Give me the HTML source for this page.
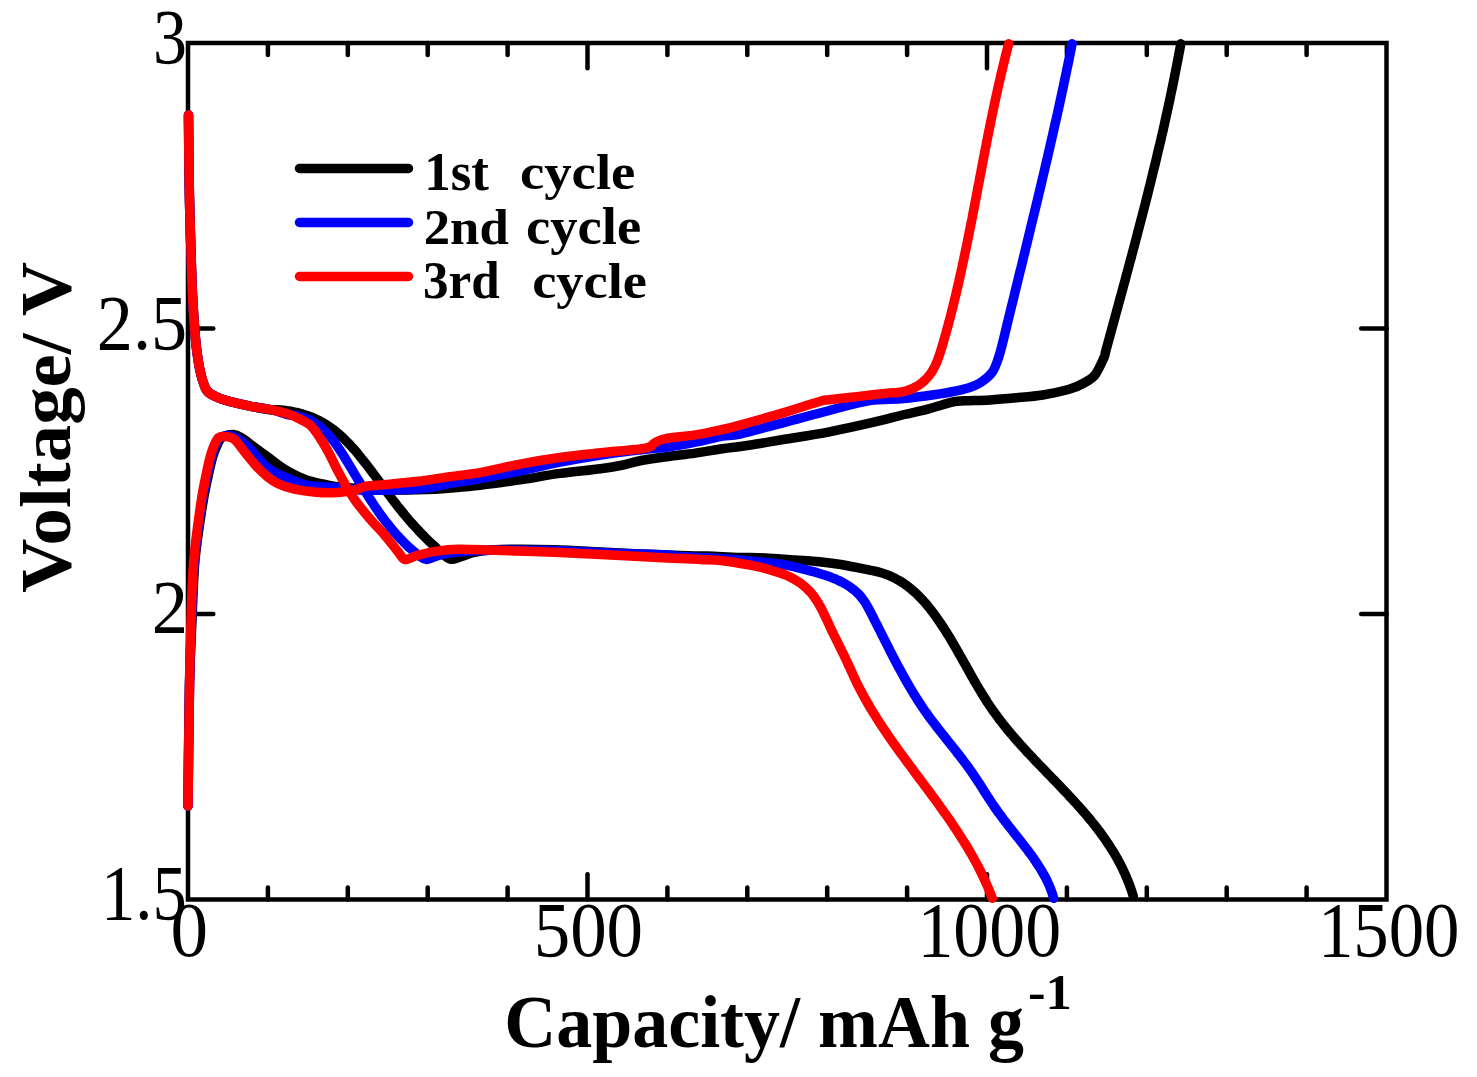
<!DOCTYPE html>
<html><head><meta charset="utf-8"><style>
html,body{margin:0;padding:0;background:#fff;}
body{width:1477px;height:1077px;overflow:hidden;position:relative;}
svg{position:absolute;left:0;top:0;}
.r{font-family:"Liberation Serif",serif;fill:#000;}
.b{font-family:"Liberation Serif",serif;font-weight:bold;fill:#000;}
</style></head><body>
<svg width="1477" height="1077" viewBox="0 0 1477 1077">
<g stroke="#000" stroke-width="4.5" stroke-linecap="round" fill="none">
<line x1="267.9" y1="899.5" x2="267.9" y2="887.5"/><line x1="267.9" y1="43.0" x2="267.9" y2="55.0"/><line x1="347.8" y1="899.5" x2="347.8" y2="887.5"/><line x1="347.8" y1="43.0" x2="347.8" y2="55.0"/><line x1="427.7" y1="899.5" x2="427.7" y2="887.5"/><line x1="427.7" y1="43.0" x2="427.7" y2="55.0"/><line x1="507.6" y1="899.5" x2="507.6" y2="887.5"/><line x1="507.6" y1="43.0" x2="507.6" y2="55.0"/><line x1="587.5" y1="899.5" x2="587.5" y2="874.2"/><line x1="587.5" y1="43.0" x2="587.5" y2="68.3"/><line x1="667.4" y1="899.5" x2="667.4" y2="887.5"/><line x1="667.4" y1="43.0" x2="667.4" y2="55.0"/><line x1="747.3" y1="899.5" x2="747.3" y2="887.5"/><line x1="747.3" y1="43.0" x2="747.3" y2="55.0"/><line x1="827.2" y1="899.5" x2="827.2" y2="887.5"/><line x1="827.2" y1="43.0" x2="827.2" y2="55.0"/><line x1="907.1" y1="899.5" x2="907.1" y2="887.5"/><line x1="907.1" y1="43.0" x2="907.1" y2="55.0"/><line x1="987.0" y1="899.5" x2="987.0" y2="874.2"/><line x1="987.0" y1="43.0" x2="987.0" y2="68.3"/><line x1="1066.9" y1="899.5" x2="1066.9" y2="887.5"/><line x1="1066.9" y1="43.0" x2="1066.9" y2="55.0"/><line x1="1146.8" y1="899.5" x2="1146.8" y2="887.5"/><line x1="1146.8" y1="43.0" x2="1146.8" y2="55.0"/><line x1="1226.7" y1="899.5" x2="1226.7" y2="887.5"/><line x1="1226.7" y1="43.0" x2="1226.7" y2="55.0"/><line x1="1306.6" y1="899.5" x2="1306.6" y2="887.5"/><line x1="1306.6" y1="43.0" x2="1306.6" y2="55.0"/><line x1="188.0" y1="328.5" x2="213.3" y2="328.5"/><line x1="1386.5" y1="328.5" x2="1361.2" y2="328.5"/><line x1="188.0" y1="614.0" x2="213.3" y2="614.0"/><line x1="1386.5" y1="614.0" x2="1361.2" y2="614.0"/>
<rect x="188" y="43" width="1198.5" height="856.5" stroke-linecap="butt" stroke-linejoin="miter"/>
</g>
<g fill="none" stroke-linecap="round" stroke-linejoin="round" stroke-width="9.5">
<path d="M188.5 115.0 C188.6 126.4 188.8 162.9 189.2 183.6 C189.5 204.3 190.0 220.8 190.6 239.4 C191.2 258.0 191.7 278.7 192.5 295.0 C193.3 311.3 194.4 326.2 195.3 337.0 C196.2 347.8 197.3 354.4 198.1 360.0 C198.9 365.6 199.3 367.2 200.1 370.8 C200.9 374.4 201.7 378.2 203.0 381.7 C204.3 385.2 205.1 388.9 207.7 391.6 C210.3 394.3 214.9 396.3 218.5 397.9 C222.1 399.5 223.9 400.0 229.3 401.4 C234.7 402.8 244.2 404.9 251.0 406.3 C257.8 407.7 265.9 409.2 270.0 409.8 C274.1 410.4 273.7 409.8 275.5 409.8 C277.4 409.9 279.2 410.0 281.0 410.1 C282.8 410.2 284.5 410.4 286.3 410.6 C288.0 410.9 289.8 411.1 291.5 411.4 C293.2 411.7 294.9 412.1 296.6 412.5 C298.3 412.8 299.9 413.3 301.6 413.7 C303.2 414.2 304.8 414.7 306.4 415.3 C308.0 415.8 309.6 416.4 311.2 417.0 C312.7 417.6 314.2 418.3 315.8 419.0 C317.3 419.7 318.8 420.4 320.2 421.2 C321.7 422.0 323.1 422.8 324.5 423.7 C326.0 424.5 327.4 425.4 328.7 426.3 C330.1 427.2 331.4 428.2 332.8 429.2 C334.1 430.1 335.4 431.2 336.7 432.2 C337.9 433.3 339.2 434.3 340.4 435.5 C341.7 436.6 342.9 437.7 344.1 438.8 C345.3 440.0 346.5 441.2 347.6 442.4 C348.8 443.6 350.0 444.8 351.1 446.1 C352.2 447.3 353.4 448.6 354.5 449.8 C355.6 451.1 356.7 452.4 357.8 453.7 C358.9 455.0 359.9 456.3 361.0 457.7 C362.1 459.0 363.1 460.3 364.2 461.7 C365.2 463.0 366.3 464.4 367.3 465.7 C368.4 467.1 369.4 468.4 370.4 469.8 C371.5 471.2 372.5 472.5 373.5 473.9 C374.6 475.3 375.6 476.6 376.6 478.0 C377.6 479.4 378.6 480.8 379.7 482.2 C380.7 483.5 381.7 484.9 382.7 486.3 C383.7 487.7 384.8 489.1 385.8 490.4 C386.8 491.8 387.8 493.2 388.9 494.6 C389.9 495.9 390.9 497.3 391.9 498.7 C393.0 500.0 394.0 501.4 395.1 502.8 C396.1 504.1 397.2 505.5 398.2 506.8 C399.3 508.2 400.3 509.5 401.4 510.8 C402.5 512.2 403.5 513.5 404.6 514.8 C405.7 516.1 406.8 517.4 407.9 518.7 C409.0 520.0 410.1 521.3 411.3 522.6 C412.4 523.9 413.5 525.1 414.7 526.4 C415.8 527.6 417.0 528.9 418.2 530.1 C419.3 531.4 420.5 532.6 421.7 533.8 C422.9 535.0 424.1 536.3 425.3 537.5 C426.5 538.7 427.7 539.9 428.9 541.1 C430.2 542.2 431.4 543.4 432.6 544.6 C433.9 545.8 435.1 546.9 436.4 548.1 C437.6 549.3 438.9 550.4 440.2 551.6 C441.4 552.7 442.2 553.7 444.0 555.0 C445.8 556.3 448.4 558.8 451.0 559.2 C453.6 559.6 456.4 558.2 459.6 557.2 C462.8 556.2 467.0 554.4 470.4 553.4 C473.8 552.4 475.1 551.9 480.0 551.2 C484.9 550.6 487.7 549.8 500.0 549.5 C512.3 549.2 535.3 549.2 553.7 549.7 C572.1 550.2 589.6 551.6 610.6 552.6 C631.6 553.6 663.9 555.0 680.0 555.6 C696.1 556.2 697.3 555.7 707.0 556.0 C716.7 556.3 728.5 557.1 738.2 557.4 C747.9 557.7 755.8 557.5 765.3 558.0 C774.8 558.5 786.1 559.5 795.1 560.1 C804.1 560.7 811.6 561.0 819.5 561.8 C827.4 562.6 834.2 563.4 842.5 564.8 C850.8 566.2 864.2 569.1 869.6 570.2 C875.0 571.3 873.3 570.8 875.1 571.2 C876.9 571.6 878.6 572.0 880.3 572.5 C882.0 573.0 883.7 573.5 885.3 574.1 C886.9 574.7 888.5 575.3 890.1 576.0 C891.7 576.6 893.2 577.4 894.7 578.1 C896.2 578.9 897.6 579.7 899.1 580.5 C900.5 581.4 901.9 582.2 903.3 583.2 C904.6 584.1 906.0 585.0 907.3 586.0 C908.6 587.0 909.9 588.0 911.2 589.1 C912.4 590.1 913.7 591.2 914.9 592.3 C916.1 593.4 917.3 594.5 918.4 595.7 C919.6 596.9 920.8 598.0 921.9 599.3 C923.0 600.5 924.1 601.7 925.2 602.9 C926.3 604.2 927.3 605.5 928.4 606.7 C929.4 608.0 930.5 609.3 931.5 610.7 C932.5 612.0 933.5 613.3 934.5 614.7 C935.5 616.0 936.5 617.4 937.4 618.7 C938.4 620.1 939.4 621.5 940.3 622.9 C941.2 624.3 942.2 625.7 943.1 627.1 C944.0 628.5 944.9 629.9 945.8 631.3 C946.7 632.8 947.6 634.2 948.5 635.6 C949.4 637.1 950.3 638.5 951.1 640.0 C952.0 641.5 952.9 642.9 953.7 644.4 C954.6 645.9 955.4 647.3 956.3 648.8 C957.1 650.3 958.0 651.8 958.8 653.3 C959.7 654.8 960.5 656.3 961.4 657.8 C962.2 659.2 963.0 660.7 963.9 662.2 C964.7 663.7 965.6 665.2 966.4 666.7 C967.2 668.2 968.1 669.7 968.9 671.2 C969.8 672.7 970.6 674.2 971.4 675.7 C972.3 677.2 973.1 678.7 974.0 680.2 C974.9 681.7 975.7 683.2 976.6 684.7 C977.5 686.1 978.3 687.6 979.2 689.1 C980.1 690.6 981.0 692.0 981.9 693.5 C982.8 695.0 983.7 696.4 984.6 697.9 C985.5 699.3 986.4 700.7 987.3 702.2 C988.3 703.6 989.2 705.0 990.2 706.4 C991.1 707.9 992.1 709.3 993.1 710.7 C994.1 712.1 995.1 713.4 996.1 714.8 C997.1 716.2 998.1 717.6 999.1 718.9 C1000.1 720.3 1001.2 721.6 1002.2 723.0 C1003.3 724.3 1004.3 725.6 1005.4 727.0 C1006.5 728.3 1007.5 729.6 1008.6 730.9 C1009.7 732.2 1010.8 733.5 1011.9 734.8 C1013.0 736.1 1014.1 737.4 1015.2 738.7 C1016.4 740.0 1017.5 741.3 1018.6 742.5 C1019.8 743.8 1020.9 745.1 1022.0 746.3 C1023.2 747.6 1024.3 748.9 1025.5 750.1 C1026.6 751.4 1027.8 752.6 1029.0 753.9 C1030.1 755.1 1031.3 756.3 1032.5 757.6 C1033.6 758.8 1034.8 760.1 1036.0 761.3 C1037.2 762.5 1038.3 763.8 1039.5 765.0 C1040.7 766.2 1041.9 767.4 1043.1 768.7 C1044.3 769.9 1045.4 771.1 1046.6 772.4 C1047.8 773.6 1049.0 774.8 1050.2 776.0 C1051.4 777.2 1052.6 778.5 1053.7 779.7 C1054.9 780.9 1056.1 782.1 1057.3 783.4 C1058.5 784.6 1059.6 785.8 1060.8 787.1 C1062.0 788.3 1063.2 789.5 1064.3 790.7 C1065.5 792.0 1066.7 793.2 1067.8 794.4 C1069.0 795.7 1070.2 796.9 1071.3 798.2 C1072.5 799.4 1073.6 800.7 1074.7 801.9 C1075.9 803.2 1077.0 804.4 1078.1 805.7 C1079.3 806.9 1080.4 808.2 1081.5 809.5 C1082.6 810.7 1083.7 812.0 1084.8 813.3 C1085.9 814.6 1087.0 815.8 1088.1 817.1 C1089.2 818.4 1090.3 819.7 1091.3 821.0 C1092.4 822.3 1093.4 823.6 1094.5 825.0 C1095.5 826.3 1096.5 827.6 1097.6 828.9 C1098.6 830.3 1099.6 831.6 1100.6 833.0 C1101.6 834.3 1102.6 835.7 1103.5 837.0 C1104.5 838.4 1105.5 839.8 1106.4 841.2 C1107.4 842.6 1108.3 844.0 1109.2 845.4 C1110.1 846.8 1111.0 848.2 1111.9 849.6 C1112.8 851.0 1113.7 852.5 1114.6 853.9 C1115.4 855.4 1116.3 856.8 1117.1 858.3 C1117.9 859.8 1118.7 861.3 1119.5 862.8 C1120.3 864.3 1121.1 865.8 1121.8 867.3 C1122.6 868.8 1123.3 870.4 1124.0 871.9 C1124.8 873.5 1125.5 875.0 1126.1 876.6 C1126.8 878.2 1127.5 879.8 1128.1 881.4 C1128.8 883.0 1129.4 884.6 1130.0 886.3 C1130.6 887.9 1131.1 889.6 1131.7 891.2 C1132.3 892.9 1133.0 895.5 1133.3 896.3" stroke="#000"/>
<path d="M188.0 806.0 C188.2 785.8 188.8 716.0 189.5 685.0 C190.2 654.0 191.1 640.8 192.0 620.0 C192.9 599.2 193.2 579.2 195.0 560.0 C196.8 540.8 200.4 518.5 202.5 505.0 C204.6 491.5 205.8 486.9 207.5 479.0 C209.2 471.1 211.0 462.9 212.5 457.5 C214.0 452.1 214.9 450.0 216.5 446.7 C218.1 443.4 219.1 439.6 222.0 437.5 C224.9 435.4 230.4 434.3 233.7 434.4 C237.0 434.5 239.1 436.3 242.0 438.0 C244.9 439.7 246.8 441.6 251.0 444.7 C255.2 447.8 261.8 452.6 267.2 456.6 C272.6 460.6 277.2 464.7 283.5 468.5 C289.8 472.3 298.0 476.7 305.2 479.4 C312.4 482.1 321.0 483.5 326.8 484.8 C332.6 486.1 334.3 486.4 339.8 487.0 C345.3 487.6 352.2 488.0 360.0 488.5 C367.8 489.0 375.8 489.8 386.8 490.0 C397.9 490.2 415.8 489.8 426.3 489.5 C436.8 489.2 441.1 488.7 450.0 488.0 C458.9 487.3 468.1 486.7 480.0 485.3 C491.9 483.9 508.3 481.6 521.6 479.6 C534.9 477.6 546.8 475.2 560.0 473.4 C573.2 471.6 590.1 470.1 600.6 468.7 C611.1 467.3 616.2 466.4 623.0 465.0 C629.8 463.6 633.7 461.9 641.2 460.5 C648.8 459.1 659.3 457.7 668.3 456.5 C677.3 455.3 686.4 454.4 695.4 453.1 C704.4 451.8 715.1 449.8 722.5 448.7 C729.9 447.6 733.8 447.4 740.0 446.5 C746.2 445.6 752.5 444.7 760.0 443.5 C767.5 442.3 773.1 441.2 784.7 439.3 C796.3 437.4 814.5 434.7 829.4 431.8 C844.3 428.9 861.5 425.1 874.0 422.2 C886.5 419.3 895.3 416.7 904.4 414.5 C913.5 412.3 920.6 410.9 928.7 408.8 C936.8 406.7 947.1 403.2 953.1 401.9 C959.1 400.6 958.9 401.1 965.0 400.8 C971.1 400.5 981.4 400.4 990.0 399.9 C998.6 399.4 1007.6 398.6 1016.4 397.8 C1025.2 397.0 1034.0 396.4 1042.8 395.0 C1051.6 393.6 1062.5 391.2 1069.2 389.3 C1075.9 387.4 1078.7 385.9 1083.0 383.5 C1087.3 381.1 1091.3 379.5 1094.8 375.2 C1098.3 370.9 1102.2 361.4 1104.0 357.6 C1105.8 353.8 1104.9 354.3 1105.3 352.7 C1105.8 351.0 1106.2 349.4 1106.7 347.7 C1107.1 346.1 1107.6 344.4 1108.0 342.8 C1108.5 341.1 1108.9 339.5 1109.4 337.8 C1109.8 336.2 1110.3 334.5 1110.7 332.9 C1111.2 331.2 1111.6 329.6 1112.1 327.9 C1112.5 326.3 1113.0 324.6 1113.4 323.0 C1113.9 321.3 1114.3 319.7 1114.8 318.0 C1115.2 316.4 1115.7 314.7 1116.1 313.1 C1116.6 311.4 1117.0 309.8 1117.5 308.1 C1117.9 306.5 1118.4 304.8 1118.8 303.2 C1119.3 301.5 1119.7 299.9 1120.2 298.2 C1120.6 296.6 1121.1 294.9 1121.5 293.3 C1122.0 291.6 1122.4 290.0 1122.9 288.3 C1123.3 286.7 1123.8 285.0 1124.2 283.4 C1124.7 281.7 1125.1 280.1 1125.6 278.4 C1126.0 276.8 1126.4 275.1 1126.9 273.5 C1127.3 271.8 1127.8 270.2 1128.2 268.5 C1128.7 266.9 1129.1 265.2 1129.5 263.6 C1130.0 261.9 1130.4 260.3 1130.9 258.6 C1131.3 257.0 1131.8 255.3 1132.2 253.7 C1132.6 252.0 1133.1 250.4 1133.5 248.7 C1134.0 247.1 1134.4 245.4 1134.8 243.8 C1135.3 242.1 1135.7 240.4 1136.1 238.8 C1136.6 237.1 1137.0 235.5 1137.4 233.8 C1137.9 232.2 1138.3 230.5 1138.7 228.9 C1139.2 227.2 1139.6 225.6 1140.0 223.9 C1140.5 222.2 1140.9 220.6 1141.3 218.9 C1141.8 217.3 1142.2 215.6 1142.6 214.0 C1143.0 212.3 1143.5 210.7 1143.9 209.0 C1144.3 207.3 1144.7 205.7 1145.2 204.0 C1145.6 202.4 1146.0 200.7 1146.4 199.1 C1146.8 197.4 1147.3 195.7 1147.7 194.1 C1148.1 192.4 1148.5 190.8 1148.9 189.1 C1149.3 187.5 1149.8 185.8 1150.2 184.1 C1150.6 182.5 1151.0 180.8 1151.4 179.2 C1151.8 177.5 1152.2 175.8 1152.6 174.2 C1153.0 172.5 1153.4 170.9 1153.8 169.2 C1154.2 167.5 1154.7 165.9 1155.1 164.2 C1155.5 162.5 1155.9 160.9 1156.3 159.2 C1156.7 157.6 1157.0 155.9 1157.4 154.2 C1157.8 152.6 1158.2 150.9 1158.6 149.2 C1159.0 147.6 1159.4 145.9 1159.8 144.3 C1160.2 142.6 1160.6 140.9 1161.0 139.3 C1161.3 137.6 1161.7 135.9 1162.1 134.3 C1162.5 132.6 1162.9 130.9 1163.3 129.3 C1163.6 127.6 1164.0 125.9 1164.4 124.3 C1164.8 122.6 1165.1 120.9 1165.5 119.2 C1165.9 117.6 1166.2 115.9 1166.6 114.2 C1167.0 112.6 1167.3 110.9 1167.7 109.2 C1168.1 107.6 1168.4 105.9 1168.8 104.2 C1169.2 102.5 1169.5 100.9 1169.9 99.2 C1170.2 97.5 1170.6 95.8 1170.9 94.2 C1171.3 92.5 1171.6 90.8 1172.0 89.1 C1172.3 87.5 1172.7 85.8 1173.0 84.1 C1173.4 82.4 1173.7 80.8 1174.0 79.1 C1174.4 77.4 1174.7 75.7 1175.0 74.1 C1175.4 72.4 1175.7 70.7 1176.0 69.0 C1176.4 67.3 1176.7 65.7 1177.0 64.0 C1177.3 62.3 1177.7 60.6 1178.0 58.9 C1178.3 57.3 1178.6 55.6 1178.9 53.9 C1179.3 52.2 1179.6 50.5 1179.9 48.9 C1180.2 47.2 1180.6 44.6 1180.8 43.8" stroke="#000"/>
<path d="M188.5 115.0 C188.6 126.4 188.8 162.9 189.2 183.6 C189.5 204.3 190.0 220.8 190.6 239.4 C191.2 258.0 191.7 278.7 192.5 295.0 C193.3 311.3 194.4 326.2 195.3 337.0 C196.2 347.8 197.3 354.4 198.1 360.0 C198.9 365.6 199.3 367.2 200.1 370.8 C200.9 374.4 201.7 378.2 203.0 381.7 C204.3 385.2 205.1 388.9 207.7 391.6 C210.3 394.3 214.9 396.3 218.5 397.9 C222.1 399.5 223.9 400.0 229.3 401.4 C234.7 402.8 243.8 404.9 251.0 406.3 C258.2 407.7 266.8 408.6 272.7 410.0 C278.6 411.4 283.1 413.7 286.3 414.5 C289.5 415.3 290.2 414.7 292.0 414.9 C293.9 415.1 295.7 415.4 297.4 415.8 C299.1 416.2 300.8 416.6 302.4 417.2 C304.1 417.7 305.6 418.3 307.2 418.9 C308.7 419.6 310.1 420.3 311.6 421.1 C313.0 421.9 314.4 422.8 315.7 423.7 C317.1 424.6 318.4 425.5 319.6 426.5 C320.9 427.5 322.1 428.6 323.3 429.7 C324.5 430.8 325.7 432.0 326.8 433.2 C327.9 434.3 329.0 435.6 330.1 436.8 C331.2 438.1 332.2 439.4 333.3 440.7 C334.3 442.0 335.3 443.4 336.3 444.8 C337.3 446.2 338.2 447.6 339.2 449.0 C340.1 450.4 341.1 451.8 342.0 453.3 C342.9 454.8 343.8 456.2 344.8 457.7 C345.7 459.2 346.6 460.7 347.5 462.1 C348.4 463.6 349.3 465.1 350.2 466.6 C351.1 468.1 352.0 469.6 352.9 471.1 C353.8 472.6 354.7 474.1 355.5 475.5 C356.4 477.0 357.3 478.5 358.2 480.0 C359.1 481.5 360.0 483.0 360.9 484.5 C361.9 485.9 362.8 487.4 363.7 488.9 C364.6 490.4 365.5 491.9 366.4 493.3 C367.3 494.8 368.3 496.3 369.2 497.7 C370.1 499.2 371.1 500.6 372.0 502.1 C373.0 503.5 373.9 504.9 374.9 506.4 C375.9 507.8 376.8 509.2 377.8 510.6 C378.8 512.1 379.8 513.5 380.8 514.9 C381.8 516.3 382.8 517.6 383.8 519.0 C384.9 520.4 385.9 521.8 387.0 523.1 C388.0 524.5 389.1 525.8 390.2 527.1 C391.3 528.5 392.3 529.8 393.5 531.1 C394.6 532.4 395.7 533.7 396.8 534.9 C398.0 536.2 399.1 537.5 400.3 538.7 C401.5 539.9 402.7 541.2 403.9 542.4 C405.1 543.6 406.4 544.8 407.6 545.9 C408.9 547.1 410.2 548.3 411.5 549.4 C412.8 550.5 414.1 551.7 415.4 552.8 C416.8 553.9 417.7 554.9 419.5 556.0 C421.3 557.1 423.4 559.6 426.5 559.5 C429.6 559.4 434.0 556.7 437.9 555.6 C441.8 554.5 445.5 553.7 450.0 553.0 C454.5 552.3 460.0 551.9 465.0 551.5 C470.0 551.1 474.2 550.8 480.0 550.5 C485.8 550.2 487.7 550.0 500.0 550.0 C512.3 550.0 535.3 550.0 553.7 550.5 C572.1 551.0 591.6 552.2 610.6 553.0 C629.6 553.8 655.9 554.4 667.5 555.0 C679.1 555.6 668.9 555.8 680.0 556.5 C691.1 557.2 718.4 558.2 734.2 559.4 C750.0 560.6 765.5 562.4 774.8 563.5 C784.1 564.6 783.8 564.5 790.0 565.8 C796.2 567.1 807.8 570.2 812.3 571.4 C816.8 572.6 815.5 572.3 817.1 572.7 C818.7 573.2 820.3 573.7 821.9 574.2 C823.6 574.7 825.2 575.2 826.8 575.8 C828.4 576.3 830.1 576.9 831.7 577.5 C833.3 578.2 834.9 578.8 836.5 579.5 C838.1 580.2 839.6 581.0 841.2 581.7 C842.7 582.5 844.2 583.3 845.7 584.2 C847.1 585.0 848.6 585.9 850.0 586.9 C851.3 587.9 852.7 588.8 854.0 589.9 C855.3 591.0 856.5 592.1 857.7 593.2 C858.8 594.4 860.0 595.6 861.0 596.9 C862.0 598.1 863.0 599.5 864.0 600.8 C864.9 602.2 865.8 603.6 866.6 605.0 C867.5 606.5 868.3 607.9 869.1 609.4 C869.9 610.9 870.7 612.4 871.5 613.9 C872.2 615.4 873.0 616.9 873.7 618.4 C874.5 619.9 875.3 621.4 876.0 622.9 C876.8 624.5 877.6 626.0 878.3 627.5 C879.1 629.0 879.8 630.5 880.6 632.0 C881.3 633.5 882.1 635.0 882.9 636.6 C883.6 638.1 884.4 639.6 885.1 641.1 C885.9 642.6 886.7 644.1 887.4 645.6 C888.2 647.1 889.0 648.6 889.7 650.2 C890.5 651.7 891.3 653.2 892.1 654.7 C892.8 656.2 893.6 657.7 894.4 659.2 C895.2 660.7 896.0 662.2 896.8 663.7 C897.5 665.2 898.3 666.6 899.1 668.1 C899.9 669.6 900.7 671.1 901.6 672.6 C902.4 674.1 903.2 675.5 904.0 677.0 C904.8 678.5 905.7 680.0 906.5 681.4 C907.3 682.9 908.2 684.3 909.0 685.8 C909.9 687.3 910.7 688.7 911.6 690.1 C912.5 691.6 913.3 693.0 914.2 694.5 C915.1 695.9 916.0 697.3 916.9 698.7 C917.8 700.2 918.7 701.6 919.7 703.0 C920.6 704.4 921.5 705.8 922.4 707.2 C923.4 708.6 924.3 710.0 925.3 711.4 C926.3 712.8 927.3 714.1 928.2 715.5 C929.2 716.9 930.2 718.2 931.2 719.6 C932.2 720.9 933.3 722.3 934.3 723.6 C935.3 725.0 936.3 726.3 937.4 727.7 C938.4 729.0 939.5 730.3 940.5 731.7 C941.5 733.0 942.6 734.3 943.7 735.6 C944.7 737.0 945.8 738.3 946.8 739.6 C947.9 740.9 948.9 742.3 950.0 743.6 C951.0 744.9 952.1 746.2 953.2 747.6 C954.2 748.9 955.3 750.2 956.3 751.5 C957.4 752.9 958.4 754.2 959.4 755.5 C960.5 756.9 961.5 758.2 962.5 759.5 C963.5 760.9 964.6 762.2 965.6 763.6 C966.6 764.9 967.6 766.3 968.6 767.6 C969.5 769.0 970.5 770.4 971.5 771.8 C972.4 773.1 973.4 774.5 974.3 775.9 C975.3 777.3 976.2 778.7 977.1 780.1 C978.0 781.5 978.9 782.9 979.9 784.3 C980.8 785.7 981.7 787.1 982.6 788.6 C983.5 790.0 984.3 791.4 985.2 792.8 C986.1 794.2 987.0 795.6 987.9 797.0 C988.8 798.5 989.8 799.9 990.7 801.3 C991.6 802.7 992.5 804.1 993.5 805.4 C994.4 806.8 995.4 808.2 996.3 809.6 C997.3 811.0 998.3 812.3 999.3 813.7 C1000.3 815.0 1001.3 816.4 1002.3 817.7 C1003.3 819.1 1004.3 820.4 1005.3 821.7 C1006.4 823.1 1007.4 824.4 1008.4 825.7 C1009.5 827.0 1010.5 828.4 1011.6 829.7 C1012.6 831.0 1013.7 832.3 1014.7 833.7 C1015.8 835.0 1016.8 836.3 1017.9 837.6 C1018.9 838.9 1020.0 840.3 1021.0 841.6 C1022.0 842.9 1023.1 844.3 1024.1 845.6 C1025.1 846.9 1026.2 848.3 1027.2 849.6 C1028.2 851.0 1029.2 852.3 1030.2 853.7 C1031.2 855.0 1032.2 856.4 1033.2 857.8 C1034.1 859.2 1035.1 860.6 1036.0 862.0 C1037.0 863.4 1037.9 864.8 1038.8 866.2 C1039.7 867.6 1040.6 869.0 1041.5 870.5 C1042.3 871.9 1043.2 873.4 1044.0 874.9 C1044.8 876.3 1045.6 877.8 1046.4 879.3 C1047.1 880.8 1047.8 882.4 1048.5 883.9 C1049.2 885.4 1049.9 887.0 1050.5 888.6 C1051.1 890.2 1051.7 891.8 1052.2 893.4 C1052.7 895.0 1053.4 897.5 1053.6 898.3" stroke="#00f"/>
<path d="M188.0 806.0 C188.2 785.8 188.9 716.0 189.5 685.0 C190.1 654.0 190.7 640.8 191.5 620.0 C192.3 599.2 192.8 579.2 194.5 560.0 C196.2 540.8 199.5 518.5 201.5 505.0 C203.5 491.5 204.8 486.9 206.5 479.0 C208.2 471.1 210.1 462.9 211.5 457.5 C212.9 452.1 213.6 449.9 215.0 446.7 C216.4 443.4 217.6 439.9 220.0 438.0 C222.4 436.1 226.0 435.2 229.3 435.5 C232.6 435.8 236.4 437.6 240.0 440.0 C243.6 442.4 247.4 446.3 251.0 450.0 C254.6 453.7 258.3 458.9 261.8 462.4 C265.3 465.9 268.4 468.6 272.0 471.0 C275.6 473.4 278.0 474.2 283.5 476.5 C289.0 478.8 298.0 483.1 305.2 484.9 C312.4 486.6 320.9 486.5 326.8 487.0 C332.8 487.5 334.8 487.5 340.9 488.0 C347.0 488.5 354.2 489.7 363.2 490.0 C372.2 490.3 384.2 490.3 394.7 490.0 C405.2 489.7 417.1 489.1 426.3 488.0 C435.5 486.9 441.1 485.1 450.0 483.5 C458.9 481.9 468.1 480.7 480.0 478.5 C491.9 476.3 508.3 473.2 521.6 470.5 C534.9 467.8 546.8 464.8 560.0 462.2 C573.2 459.6 587.1 457.2 600.6 455.1 C614.1 453.0 629.9 451.1 641.2 449.7 C652.5 448.3 659.3 448.2 668.3 447.0 C677.3 445.8 686.4 444.0 695.4 442.2 C704.4 440.4 715.1 437.6 722.5 436.2 C729.9 434.8 729.6 436.3 740.0 434.0 C750.4 431.7 769.8 426.3 784.7 422.4 C799.6 418.5 815.2 414.1 829.4 410.5 C843.5 406.9 857.2 402.5 869.6 400.5 C882.0 398.5 892.1 399.7 903.8 398.6 C915.5 397.5 931.5 395.1 940.0 393.9 C948.5 392.6 949.9 392.2 954.9 391.1 C959.9 390.0 965.4 388.8 969.7 387.4 C974.0 385.9 977.1 385.0 980.9 382.4 C984.7 379.8 989.4 376.2 992.4 372.0 C995.4 367.8 997.0 362.1 998.7 357.1 C1000.4 352.1 1001.9 345.6 1002.8 342.3 C1003.7 339.0 1003.6 339.0 1004.0 337.3 C1004.4 335.7 1004.8 334.0 1005.2 332.4 C1005.6 330.7 1006.0 329.1 1006.4 327.4 C1006.8 325.8 1007.2 324.1 1007.6 322.4 C1008.0 320.8 1008.4 319.1 1008.8 317.5 C1009.2 315.8 1009.6 314.2 1010.0 312.5 C1010.4 310.9 1010.8 309.2 1011.2 307.6 C1011.6 305.9 1012.0 304.3 1012.5 302.6 C1012.9 300.9 1013.3 299.3 1013.7 297.6 C1014.1 296.0 1014.5 294.3 1014.9 292.7 C1015.3 291.0 1015.7 289.4 1016.1 287.7 C1016.5 286.1 1016.9 284.4 1017.3 282.8 C1017.7 281.1 1018.1 279.4 1018.5 277.8 C1018.9 276.1 1019.3 274.5 1019.7 272.8 C1020.1 271.2 1020.5 269.5 1021.0 267.9 C1021.4 266.2 1021.8 264.6 1022.2 262.9 C1022.6 261.3 1023.0 259.6 1023.4 257.9 C1023.8 256.3 1024.2 254.6 1024.6 253.0 C1025.0 251.3 1025.4 249.7 1025.8 248.0 C1026.2 246.4 1026.6 244.7 1027.0 243.1 C1027.4 241.4 1027.8 239.7 1028.2 238.1 C1028.6 236.4 1029.0 234.8 1029.4 233.1 C1029.8 231.5 1030.2 229.8 1030.6 228.2 C1031.0 226.5 1031.4 224.9 1031.8 223.2 C1032.2 221.5 1032.6 219.9 1033.0 218.2 C1033.4 216.6 1033.8 214.9 1034.2 213.3 C1034.6 211.6 1035.0 210.0 1035.4 208.3 C1035.8 206.7 1036.2 205.0 1036.6 203.3 C1037.0 201.7 1037.4 200.0 1037.8 198.4 C1038.2 196.7 1038.6 195.1 1039.0 193.4 C1039.4 191.7 1039.8 190.1 1040.2 188.4 C1040.6 186.8 1041.0 185.1 1041.4 183.5 C1041.7 181.8 1042.1 180.2 1042.5 178.5 C1042.9 176.8 1043.3 175.2 1043.7 173.5 C1044.1 171.9 1044.5 170.2 1044.9 168.5 C1045.3 166.9 1045.6 165.2 1046.0 163.6 C1046.4 161.9 1046.8 160.3 1047.2 158.6 C1047.6 156.9 1048.0 155.3 1048.3 153.6 C1048.7 152.0 1049.1 150.3 1049.5 148.6 C1049.9 147.0 1050.3 145.3 1050.6 143.7 C1051.0 142.0 1051.4 140.4 1051.8 138.7 C1052.1 137.0 1052.5 135.4 1052.9 133.7 C1053.3 132.1 1053.7 130.4 1054.0 128.7 C1054.4 127.1 1054.8 125.4 1055.1 123.7 C1055.5 122.1 1055.9 120.4 1056.3 118.8 C1056.6 117.1 1057.0 115.4 1057.4 113.8 C1057.7 112.1 1058.1 110.5 1058.5 108.8 C1058.8 107.1 1059.2 105.5 1059.6 103.8 C1059.9 102.1 1060.3 100.5 1060.7 98.8 C1061.0 97.1 1061.4 95.5 1061.7 93.8 C1062.1 92.2 1062.4 90.5 1062.8 88.8 C1063.2 87.2 1063.5 85.5 1063.9 83.8 C1064.2 82.2 1064.6 80.5 1064.9 78.8 C1065.3 77.2 1065.6 75.5 1066.0 73.8 C1066.3 72.2 1066.7 70.5 1067.0 68.8 C1067.4 67.2 1067.7 65.5 1068.1 63.8 C1068.4 62.2 1068.7 60.5 1069.1 58.8 C1069.4 57.2 1069.8 55.5 1070.1 53.8 C1070.4 52.1 1070.8 50.5 1071.1 48.8 C1071.4 47.1 1071.9 44.6 1072.1 43.8" stroke="#00f"/>
<path d="M188.5 115.0 C188.6 126.4 188.8 162.9 189.2 183.6 C189.5 204.3 190.0 220.8 190.6 239.4 C191.2 258.0 191.7 278.7 192.5 295.0 C193.3 311.3 194.4 326.2 195.3 337.0 C196.2 347.8 197.3 354.4 198.1 360.0 C198.9 365.6 199.3 367.2 200.1 370.8 C200.9 374.4 201.7 378.2 203.0 381.7 C204.3 385.2 205.1 388.9 207.7 391.6 C210.3 394.3 214.9 396.3 218.5 397.9 C222.1 399.5 223.9 400.0 229.3 401.4 C234.7 402.8 243.8 404.9 251.0 406.3 C258.2 407.7 266.4 408.7 272.7 410.0 C279.0 411.3 284.4 412.7 288.9 414.2 C293.4 415.7 296.1 417.1 299.7 419.0 C303.3 420.9 307.4 422.6 310.6 425.5 C313.8 428.4 315.9 431.9 318.9 436.3 C321.9 440.7 325.2 446.3 328.4 452.1 C331.6 457.9 334.7 465.1 337.9 471.1 C341.1 477.2 344.2 483.1 347.4 488.4 C350.5 493.6 353.1 497.6 356.8 502.6 C360.5 507.6 364.8 512.9 369.5 518.4 C374.2 523.9 380.6 530.3 385.3 535.8 C390.0 541.3 394.6 547.6 397.9 551.6 C401.2 555.6 401.9 558.9 405.0 559.5 C408.1 560.1 411.9 556.8 416.8 555.5 C421.7 554.2 427.4 552.6 434.2 551.6 C441.0 550.6 447.4 549.4 457.9 549.2 C468.3 549.0 480.9 549.8 496.9 550.3 C512.9 550.8 534.8 551.4 553.7 552.2 C572.7 553.0 591.6 554.0 610.6 555.0 C629.6 556.0 652.6 557.2 667.5 557.9 C682.4 558.6 691.1 558.9 700.0 559.4 C708.9 559.9 713.8 559.9 720.6 560.6 C727.4 561.3 734.0 562.4 740.8 563.5 C747.6 564.6 755.5 566.1 761.2 567.4 C766.9 568.7 771.8 570.6 775.0 571.5 C778.2 572.4 778.5 572.5 780.2 573.0 C781.9 573.6 783.5 574.2 785.2 574.9 C786.8 575.5 788.4 576.3 789.9 577.0 C791.5 577.8 793.0 578.6 794.5 579.4 C795.9 580.3 797.4 581.2 798.8 582.1 C800.2 583.1 801.5 584.0 802.8 585.1 C804.1 586.1 805.4 587.2 806.6 588.3 C807.8 589.5 809.0 590.6 810.1 591.8 C811.2 593.1 812.2 594.3 813.2 595.6 C814.3 596.9 815.2 598.3 816.1 599.7 C817.0 601.0 817.9 602.5 818.8 603.9 C819.6 605.4 820.4 606.8 821.2 608.3 C822.0 609.8 822.8 611.3 823.5 612.9 C824.3 614.4 825.0 615.9 825.7 617.5 C826.4 619.0 827.2 620.6 827.9 622.2 C828.6 623.7 829.3 625.3 830.0 626.8 C830.8 628.4 831.5 629.9 832.2 631.5 C833.0 633.0 833.7 634.5 834.5 636.1 C835.2 637.6 836.0 639.1 836.8 640.7 C837.5 642.2 838.3 643.7 839.0 645.3 C839.8 646.8 840.6 648.3 841.3 649.9 C842.1 651.4 842.8 652.9 843.6 654.5 C844.3 656.0 845.0 657.5 845.8 659.1 C846.5 660.6 847.2 662.2 847.9 663.7 C848.6 665.3 849.3 666.8 850.1 668.4 C850.8 670.0 851.5 671.5 852.2 673.1 C852.9 674.6 853.6 676.2 854.3 677.7 C855.1 679.3 855.8 680.8 856.5 682.4 C857.3 683.9 858.1 685.4 858.8 686.9 C859.6 688.5 860.4 690.0 861.2 691.5 C862.0 693.0 862.8 694.5 863.6 696.0 C864.4 697.5 865.2 699.0 866.1 700.4 C866.9 701.9 867.8 703.4 868.6 704.9 C869.5 706.3 870.3 707.8 871.2 709.3 C872.1 710.7 873.0 712.2 873.9 713.6 C874.8 715.1 875.7 716.5 876.6 718.0 C877.5 719.4 878.4 720.8 879.3 722.3 C880.3 723.7 881.2 725.1 882.1 726.5 C883.1 727.9 884.0 729.4 885.0 730.8 C885.9 732.2 886.9 733.6 887.8 735.0 C888.8 736.4 889.8 737.8 890.7 739.2 C891.7 740.6 892.7 742.0 893.7 743.4 C894.7 744.8 895.7 746.2 896.7 747.6 C897.6 749.0 898.6 750.3 899.6 751.7 C900.6 753.1 901.6 754.5 902.7 755.9 C903.7 757.2 904.7 758.6 905.7 760.0 C906.7 761.4 907.7 762.7 908.7 764.1 C909.7 765.5 910.8 766.9 911.8 768.2 C912.8 769.6 913.8 771.0 914.8 772.3 C915.9 773.7 916.9 775.1 917.9 776.5 C918.9 777.8 920.0 779.2 921.0 780.6 C922.0 781.9 923.0 783.3 924.0 784.7 C925.1 786.0 926.1 787.4 927.1 788.8 C928.1 790.2 929.1 791.5 930.2 792.9 C931.2 794.3 932.2 795.7 933.2 797.0 C934.2 798.4 935.2 799.8 936.2 801.2 C937.2 802.5 938.2 803.9 939.2 805.3 C940.2 806.7 941.2 808.1 942.2 809.5 C943.2 810.9 944.2 812.2 945.2 813.6 C946.2 815.0 947.1 816.4 948.1 817.8 C949.1 819.2 950.1 820.6 951.0 822.0 C952.0 823.4 952.9 824.8 953.9 826.3 C954.8 827.7 955.8 829.1 956.7 830.5 C957.6 831.9 958.6 833.4 959.5 834.8 C960.4 836.2 961.3 837.6 962.2 839.1 C963.1 840.5 964.0 842.0 964.9 843.4 C965.8 844.9 966.7 846.3 967.6 847.8 C968.4 849.2 969.3 850.7 970.2 852.2 C971.0 853.6 971.9 855.1 972.7 856.6 C973.5 858.1 974.3 859.6 975.2 861.1 C976.0 862.5 976.8 864.0 977.6 865.6 C978.3 867.1 979.1 868.6 979.9 870.1 C980.7 871.6 981.4 873.1 982.2 874.7 C982.9 876.2 983.6 877.8 984.3 879.3 C985.1 880.9 985.8 882.4 986.5 884.0 C987.2 885.5 987.8 887.1 988.5 888.7 C989.2 890.3 989.8 891.9 990.4 893.5 C991.1 895.1 992.0 897.5 992.3 898.3" stroke="#f00"/>
<path d="M188.0 806.0 C188.2 785.8 189.0 716.0 189.5 685.0 C190.0 654.0 190.3 640.8 191.0 620.0 C191.7 599.2 192.2 579.2 193.8 560.0 C195.4 540.8 198.7 518.5 200.6 505.0 C202.5 491.5 203.6 487.1 205.2 479.2 C206.8 471.3 208.6 462.9 210.0 457.5 C211.4 452.1 212.2 450.0 213.6 446.7 C215.0 443.4 216.4 439.5 218.5 437.8 C220.6 436.1 223.4 436.3 226.1 436.6 C228.8 436.9 231.4 436.8 234.7 439.6 C237.9 442.4 242.0 448.8 245.6 453.2 C249.2 457.6 252.8 462.3 256.4 466.2 C260.0 470.1 263.6 473.6 267.2 476.5 C270.8 479.4 273.6 481.6 278.1 483.7 C282.6 485.8 288.0 487.7 294.3 489.1 C300.6 490.5 308.8 491.6 316.0 492.2 C323.2 492.8 331.1 492.8 337.7 492.4 C344.2 492.0 350.5 491.1 355.3 490.0 C360.1 488.9 361.1 487.0 366.3 486.1 C371.6 485.2 378.1 485.3 386.8 484.5 C395.5 483.7 407.9 482.6 418.4 481.3 C428.9 480.0 439.7 478.1 450.0 476.6 C460.3 475.2 468.1 474.7 480.0 472.6 C491.9 470.5 508.3 466.3 521.6 463.8 C534.9 461.3 546.8 459.3 560.0 457.5 C573.2 455.7 586.4 454.4 600.6 452.8 C614.8 451.2 636.3 449.8 645.3 448.1 C654.3 446.4 651.4 444.3 654.8 442.7 C658.2 441.1 658.8 439.9 665.6 438.6 C672.4 437.3 685.9 436.4 695.4 434.9 C704.9 433.4 715.1 431.1 722.5 429.5 C729.9 427.9 729.6 428.0 740.0 425.1 C750.4 422.2 771.3 416.4 784.7 412.4 C798.1 408.4 813.0 403.4 820.4 401.3 C827.8 399.2 822.9 400.6 829.4 399.8 C835.9 399.0 849.1 397.6 859.2 396.4 C869.3 395.2 883.9 393.5 890.0 392.9 C896.1 392.3 893.9 392.9 895.8 392.7 C897.7 392.6 899.6 392.3 901.3 392.0 C903.1 391.7 904.9 391.2 906.6 390.7 C908.2 390.2 909.9 389.6 911.4 389.0 C913.0 388.3 914.5 387.6 916.0 386.8 C917.4 385.9 918.8 385.1 920.2 384.1 C921.5 383.2 922.8 382.1 924.0 381.0 C925.2 380.0 926.3 378.8 927.4 377.6 C928.5 376.4 929.5 375.2 930.4 373.9 C931.3 372.6 932.2 371.2 933.0 369.8 C933.8 368.4 934.6 366.9 935.3 365.5 C936.0 364.0 936.7 362.5 937.3 360.9 C937.9 359.4 938.5 357.8 939.0 356.2 C939.6 354.6 940.1 353.0 940.6 351.4 C941.1 349.8 941.6 348.2 942.1 346.5 C942.6 344.9 943.1 343.3 943.5 341.6 C944.0 340.0 944.5 338.3 944.9 336.7 C945.4 335.1 945.9 333.4 946.3 331.8 C946.8 330.1 947.2 328.5 947.6 326.9 C948.1 325.2 948.5 323.6 949.0 321.9 C949.4 320.3 949.8 318.7 950.3 317.0 C950.7 315.4 951.1 313.7 951.5 312.1 C951.9 310.4 952.4 308.8 952.8 307.1 C953.2 305.5 953.6 303.8 954.0 302.2 C954.4 300.5 954.8 298.9 955.2 297.2 C955.6 295.6 956.0 293.9 956.4 292.3 C956.8 290.6 957.1 289.0 957.5 287.3 C957.9 285.7 958.3 284.0 958.7 282.4 C959.0 280.7 959.4 279.1 959.8 277.4 C960.2 275.8 960.5 274.1 960.9 272.5 C961.3 270.8 961.6 269.2 962.0 267.5 C962.3 265.9 962.7 264.2 963.0 262.5 C963.4 260.9 963.8 259.2 964.1 257.6 C964.5 255.9 964.8 254.3 965.1 252.6 C965.5 250.9 965.8 249.3 966.2 247.6 C966.5 246.0 966.9 244.3 967.2 242.7 C967.5 241.0 967.9 239.3 968.2 237.7 C968.5 236.0 968.9 234.4 969.2 232.7 C969.5 231.0 969.9 229.4 970.2 227.7 C970.5 226.1 970.9 224.4 971.2 222.7 C971.5 221.1 971.8 219.4 972.2 217.8 C972.5 216.1 972.8 214.4 973.1 212.8 C973.4 211.1 973.8 209.5 974.1 207.8 C974.4 206.1 974.7 204.5 975.0 202.8 C975.4 201.1 975.7 199.5 976.0 197.8 C976.3 196.2 976.6 194.5 977.0 192.8 C977.3 191.2 977.6 189.5 977.9 187.8 C978.2 186.2 978.5 184.5 978.9 182.9 C979.2 181.2 979.5 179.5 979.8 177.9 C980.1 176.2 980.4 174.6 980.8 172.9 C981.1 171.2 981.4 169.6 981.7 167.9 C982.0 166.2 982.3 164.6 982.7 162.9 C983.0 161.3 983.3 159.6 983.6 157.9 C983.9 156.3 984.3 154.6 984.6 153.0 C984.9 151.3 985.2 149.6 985.5 148.0 C985.9 146.3 986.2 144.6 986.5 143.0 C986.8 141.3 987.2 139.7 987.5 138.0 C987.8 136.3 988.2 134.7 988.5 133.0 C988.8 131.4 989.2 129.7 989.5 128.0 C989.8 126.4 990.2 124.7 990.5 123.1 C990.8 121.4 991.2 119.8 991.5 118.1 C991.9 116.4 992.2 114.8 992.5 113.1 C992.9 111.5 993.2 109.8 993.6 108.2 C993.9 106.5 994.3 104.8 994.6 103.2 C995.0 101.5 995.4 99.9 995.7 98.2 C996.1 96.6 996.4 94.9 996.8 93.3 C997.2 91.6 997.5 90.0 997.9 88.3 C998.3 86.6 998.6 85.0 999.0 83.3 C999.4 81.7 999.8 80.0 1000.2 78.4 C1000.5 76.7 1000.9 75.1 1001.3 73.4 C1001.7 71.8 1002.1 70.1 1002.5 68.5 C1002.9 66.8 1003.3 65.2 1003.7 63.5 C1004.1 61.9 1004.5 60.2 1004.9 58.6 C1005.3 57.0 1005.7 55.3 1006.1 53.7 C1006.6 52.0 1007.0 50.4 1007.4 48.7 C1007.8 47.1 1008.5 44.6 1008.7 43.8" stroke="#f00"/>

<line x1="299.5" y1="168.5" x2="408.5" y2="168.5" stroke="#000"/>
<line x1="299.5" y1="222.5" x2="408.5" y2="222.5" stroke="#00f"/>
<line x1="299.5" y1="276.5" x2="408.5" y2="276.5" stroke="#f00"/>
</g>

<text class="r" font-size="72" transform="translate(153.07,62.90) scale(0.9433,1.0830)" xml:space="preserve">3</text>
<text class="r" font-size="72" transform="translate(96.79,348.90) scale(1.0036,1.0894)" xml:space="preserve">2.5</text>
<text class="r" font-size="72" transform="translate(151.78,632.70) scale(1.0069,1.0574)" xml:space="preserve">2</text>
<text class="r" font-size="72" transform="translate(100.97,919.00) scale(0.9543,1.0872)" xml:space="preserve">1.5</text>
<text class="r" font-size="72" transform="translate(170.57,955.70) scale(1.0433,1.0787)" xml:space="preserve">0</text>
<text class="r" font-size="72" transform="translate(533.64,956.10) scale(1.0139,1.0894)" xml:space="preserve">500</text>
<text class="r" font-size="72" transform="translate(917.41,956.00) scale(0.9985,1.0851)" xml:space="preserve">1000</text>
<text class="r" font-size="72" transform="translate(1317.90,956.00) scale(0.9837,1.0851)" xml:space="preserve">1500</text>
<text class="b" font-size="72" transform="translate(504.30,1047.15) scale(0.9994,1.0231)" xml:space="preserve">Capacity/ mAh g</text>
<text class="b" font-size="50" transform="translate(1027.89,1009.00) scale(1.0541,1.0333)" xml:space="preserve">-1</text>
<text class="b" font-size="72" transform="translate(69.85,592.64) rotate(-90) scale(1.0399,0.9969)" xml:space="preserve">Voltage/ V</text>
<text class="b" font-size="54" transform="translate(424.17,189.50) scale(0.9823,1.0111)" xml:space="preserve">1st</text>
<text class="b" font-size="54" transform="translate(519.97,189.10) scale(1.0135,0.9500)" xml:space="preserve">cycle</text>
<text class="b" font-size="54" transform="translate(423.75,244.20) scale(0.9762,0.9579)" xml:space="preserve">2nd</text>
<text class="b" font-size="54" transform="translate(525.98,244.48) scale(1.0117,0.9680)" xml:space="preserve">cycle</text>
<text class="b" font-size="54" transform="translate(423.01,298.40) scale(0.9474,0.9632)" xml:space="preserve">3rd</text>
<text class="b" font-size="54" transform="translate(532.18,298.18) scale(1.0081,0.9520)" xml:space="preserve">cycle</text>

</svg>
</body></html>
